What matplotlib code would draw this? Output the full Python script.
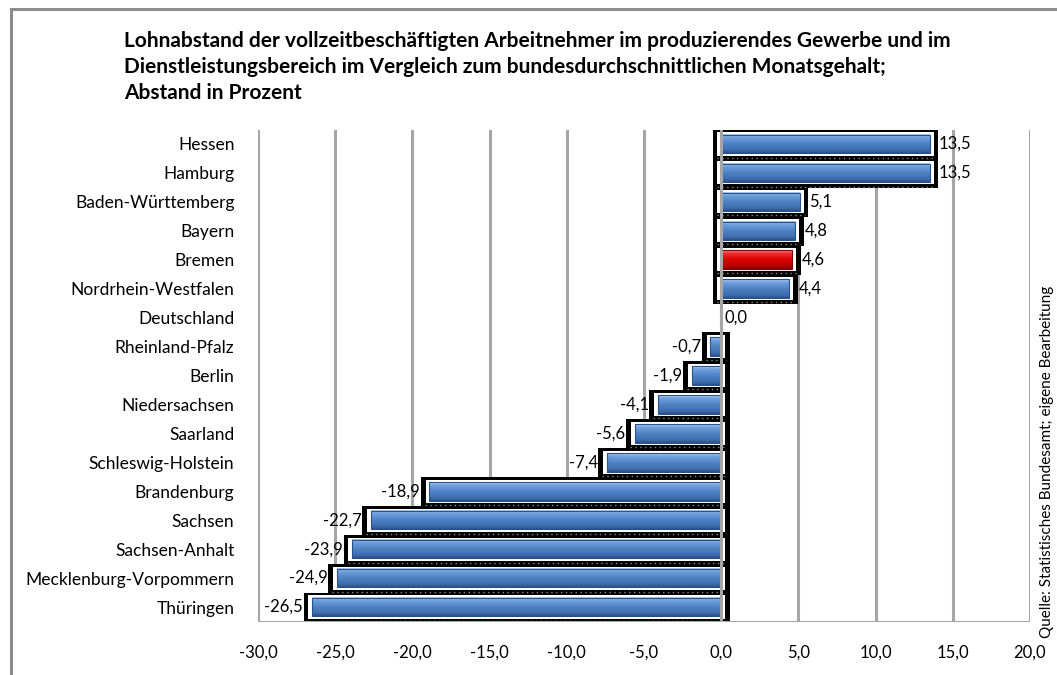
import numpy as np
import matplotlib
matplotlib.use("Agg")
import matplotlib.pyplot as plt
from matplotlib.patches import Rectangle
from matplotlib.colors import LinearSegmentedColormap

categories = ["Hessen", "Hamburg", "Baden-Württemberg", "Bayern", "Bremen",
              "Nordrhein-Westfalen", "Deutschland", "Rheinland-Pfalz", "Berlin",
              "Niedersachsen", "Saarland", "Schleswig-Holstein", "Brandenburg",
              "Sachsen", "Sachsen-Anhalt", "Mecklenburg-Vorpommern", "Thüringen"]
values = [13.5, 13.5, 5.1, 4.8, 4.6, 4.4, 0.0, -0.7, -1.9, -4.1, -5.6, -7.4,
          -18.9, -22.7, -23.9, -24.9, -26.5]
highlight = "Bremen"
xticks = [-30, -25, -20, -15, -10, -5, 0, 5, 10, 15, 20]
title = ("Lohnabstand der vollzeitbeschäftigten Arbeitnehmer im produzierendes Gewerbe und im\n"
         "Dienstleistungsbereich im Vergleich zum bundesdurchschnittlichen Monatsgehalt;\n"
         "Abstand in Prozent")
source = "Quelle: Statistisches Bundesamt; eigene Bearbeitung"

plt.rcParams['font.family'] = ['Lato', 'DejaVu Sans']

W, H = 1057, 675
fig = plt.figure(figsize=(W / 100, H / 100), dpi=100)

# outer frame
fig.add_artist(Rectangle((11 / W, -0.1), 1.2, 1 - 9 / H + 0.1, transform=fig.transFigure,
                         fill=False, edgecolor="#8c8c8c", lw=2.2))

ax = fig.add_axes([258 / W, 1 - 621.5 / H, (1030 - 258) / W, (621.5 - 129.5) / H])
n = len(categories)
ax.set_xlim(-30, 20)
ax.set_ylim(n - 0.5, -0.5)

for t in xticks:
    ax.axvline(t, color="#a6a6a6", lw=2.2, zorder=0)

blue_cm = LinearSegmentedColormap.from_list(
    "b", [(0, "#b4d0f4"), (0.15, "#74a2de"), (0.5, "#4f83c6"), (0.85, "#3e6dac"), (1, "#2a5289")])
red_cm = LinearSegmentedColormap.from_list(
    "r", [(0, "#ff9a9a"), (0.15, "#f03030"), (0.5, "#dc0000"), (0.85, "#b80000"), (1, "#800000")])
grad = np.linspace(0, 1, 64).reshape(-1, 1)

bh, wh, kh = 0.64, 0.80, 1.02
for i, (c, v) in enumerate(zip(categories, values)):
    lo, hi = min(0, v), max(0, v)
    if v == 0:
        ax.text(0.2, i, "0,0", va="center", ha="left", fontsize=12, zorder=6)
        continue
    ax.add_patch(Rectangle((lo - 0.55, i - kh / 2 + 0.02), hi - lo + 1.1, kh, facecolor="black",
                           edgecolor="none", zorder=2))
    ax.add_patch(Rectangle((lo - 0.25, i - wh / 2), hi - lo + 0.5, wh, facecolor="white",
                           edgecolor="none", zorder=3))
    cm = red_cm if c == highlight else blue_cm
    ax.imshow(grad, cmap=cm, aspect="auto", extent=(lo, hi, i + bh / 2, i - bh / 2),
              zorder=4, interpolation="bicubic")
    ax.add_patch(Rectangle((lo, i - bh / 2), hi - lo, bh, fill=False,
                           edgecolor="#2a5289" if c != highlight else "#800000", lw=0.8, zorder=4.5))
    # dotted shadow below
    ax.plot([lo - 0.3, hi + 0.3], [i + wh / 2 + 0.07, i + wh / 2 + 0.07], ls=(0, (1, 2.5)),
            color="#8a8a8a", lw=1.0, zorder=4.6)
    lab = f"{v:.1f}".replace(".", ",")
    if v > 0:
        ax.text(hi + 0.6, i, lab, va="center", ha="left", fontsize=12, zorder=6)
    else:
        ax.text(lo - 0.6, i, lab, va="center", ha="right", fontsize=12, zorder=6)

ax.set_xlim(-30, 20)
ax.set_ylim(n - 0.5, -0.5)
ax.axvline(0, color="#a6a6a6", lw=2.2, zorder=5)
ax.axhline(n - 0.5, color="#a6a6a6", lw=2.2, zorder=5)

for s in ax.spines.values():
    s.set_visible(False)
ax.set_xticks(xticks)
ax.set_xticklabels([f"{t:.1f}".replace(".", ",") for t in xticks], fontsize=12)
ax.set_yticks(range(n))
ax.set_yticklabels(categories, fontsize=12.5)
ax.tick_params(axis="x", length=0, pad=17)
ax.tick_params(axis="y", length=0, pad=17)

fig.text(124 / W, 1 - 31 / H, title, ha="left", va="top", fontsize=15,
         fontweight="bold", linespacing=1.38)
fig.text(1047 / W, 1 - 462 / H, source, rotation=90, ha="center", va="center", fontsize=11)

fig.savefig("out.png", dpi=100)
